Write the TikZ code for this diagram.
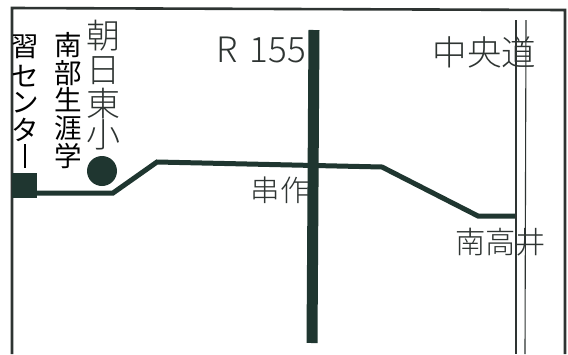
\documentclass[tikz,border=0pt]{standalone}
\usepackage{fontspec}
\setmainfont{Noto Sans CJK JP}[Scale=1]
\newfontfamily\jplight{Noto Sans CJK JP Light}
\definecolor{ink}{HTML}{1F3630}
\definecolor{thin}{HTML}{2E3432}
\tikzset{
  x=1pt,y=-1pt,
  road/.style={draw=ink,line width=5pt,line join=miter},
  frameline/.style={draw=thin,line width=2.6pt},
  express/.style={draw=thin,line width=1.1pt},
  lab/.style={inner sep=0pt,text=thin,align=center},
  vlabA/.style={lab,font=\jplight\fontsize{34}{36}\selectfont},
  vlabB/.style={lab,text=black,font=\fontsize{27.5}{29}\selectfont},
}
\begin{document}
\begin{tikzpicture}
\useasboundingbox[fill=white] (0,0) rectangle (568,354);
\draw[frameline] (12,354) -- (12,8) -- (565,10) -- (565,354);
\coordinate (expAt) at (516,20);
\coordinate (expAb) at (516,354);
\coordinate (expBt) at (526,20);
\coordinate (expBb) at (525,354);
\draw[express] (expAt) -- (expAb);
\draw[express] (expBt) -- (expBb);
\node[fill=ink,minimum size=25pt,inner sep=0pt] (center) at (24.5,185.5) {};
\node[circle,fill=ink,minimum size=30pt,inner sep=0pt] (school) at (102,171) {};
\coordinate (r1) at (113,193);
\coordinate (r2) at (157,162);
\coordinate (r3) at (382,167);
\coordinate (r4) at (478,216);
\coordinate (r5) at (515,216);
\draw[road] (center.east |- r1) -- (r1) -- (r2) -- (r3) -- (r4) -- (r5);
\coordinate (r155t) at (314,30);
\coordinate (r155b) at (312,343);
\draw[draw=ink,line width=11pt] (r155t) -- (r155b);
\node[lab,font=\jplight\fontsize{35}{35}\selectfont] (r) at (261.5,50) {R\,\,155};
\node[lab,font=\jplight\fontsize{34.5}{34.5}\selectfont] (chuo) at (484.5,52) {中央道};
\node[lab,font=\jplight\fontsize{30.3}{30.3}\selectfont] (minami) at (500.5,242) {南高井};
\node[lab,font=\jplight\fontsize{29.5}{29.5}\selectfont] (kushi) at (280,190.5) {串作};
\node[vlabA] (asahi1) at (103,36) {朝};
\node[vlabA] (asahi2) at (103,71) {日};
\node[vlabA] (asahi3) at (103,104) {東};
\node[vlabA] (asahi4) at (103,135) {小};
\node[vlabB] (nb1) at (68,45) {南};
\node[vlabB] (nb2) at (68,73) {部};
\node[vlabB] (nb3) at (68,100) {生};
\node[vlabB] (nb4) at (68,128) {涯};
\node[vlabB] (nb5) at (68,156) {学};
\node[vlabB] (c1) at (25,47) {習};
\node[vlabB] (c2) at (25,76) {セ};
\node[vlabB] (c3) at (25,103) {ン};
\node[vlabB] (c4) at (25,130) {タ};
\draw[draw=black,line width=2pt] (25,144) -- (25,168);
\end{tikzpicture}
\end{document}
